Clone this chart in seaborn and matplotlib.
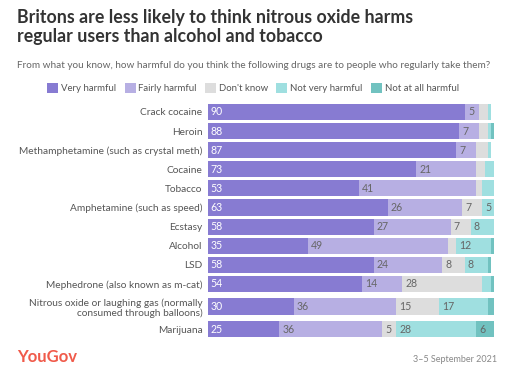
import matplotlib
matplotlib.use("Agg")
import matplotlib.pyplot as plt
import numpy as np
import pandas as pd
import seaborn as sns
from matplotlib.patches import Patch

drugs = [
    "Crack cocaine",
    "Heroin",
    "Methamphetamine (such as crystal meth)",
    "Cocaine",
    "Tobacco",
    "Amphetamine (such as speed)",
    "Ecstasy",
    "Alcohol",
    "LSD",
    "Mephedrone (also known as m-cat)",
    "Nitrous oxide or laughing gas (normally\nconsumed through balloons)",
    "Marijuana",
]
responses = ["Very harmful", "Fairly harmful", "Don't know", "Not very harmful", "Not at all harmful"]
very_harmful = [90, 88, 87, 73, 53, 63, 58, 35, 58, 54, 30, 25]
fairly_harmful = [5, 7, 7, 21, 41, 26, 27, 49, 24, 14, 36, 36]
dont_know = [3, 3, 4, 3, 2, 7, 7, 3, 8, 28, 15, 5]
not_very_harmful = [1, 1, 1, 3, 4, 5, 8, 12, 8, 3, 17, 28]
not_at_all_harmful = [0, 1, 0, 1, 0, 0, 1, 1, 1, 1, 2, 6]

colors = ["#877bd2", "#b7afe3", "#dddddd", "#9fdfe0", "#71c2c0"]
text_dark = "#555555"

sns.set_style("white")
plt.rcParams["font.family"] = ["Lato", "DejaVu Sans"]

values = np.array([very_harmful, fairly_harmful, dont_know, not_very_harmful, not_at_all_harmful], dtype=float)
cum = values.cumsum(axis=0)

# row positions: a bit of extra room around two-line labels
pos = []
y = 0.0
for i, d in enumerate(drugs):
    if i > 0:
        y += 1.0
        if "\n" in d or "\n" in drugs[i - 1]:
            y += 0.18
    pos.append(y)

fig = plt.figure(figsize=(5.16, 3.78), dpi=100)
ax = fig.add_axes([208 / 516, 1 - 339 / 378, 285.6 / 516, (339 - 102) / 378])

# stacked bars: draw cumulative totals from the outside in
for k in range(len(responses) - 1, -1, -1):
    df = pd.DataFrame({"pos": pos, "right": cum[k]})
    sns.barplot(
        data=df, x="right", y="pos", orient="y", native_scale=True,
        color=colors[k], saturation=1, width=0.84, linewidth=0, ax=ax,
    )

for k in range(len(responses)):
    for i in range(len(drugs)):
        v = values[k, i]
        if v >= 5:
            left = cum[k, i] - v
            ax.text(left + 1.0, pos[i], f"{int(v)}", va="center", ha="left",
                    fontsize=7.6, color="white" if k == 0 else "#666666")

ax.set_xlim(0, 100)
ax.set_ylim(11.88, -0.52)
ax.set_yticks(pos)
ax.set_yticklabels(drugs, fontsize=7.3, color=text_dark, linespacing=1.1)
ax.tick_params(axis="y", length=0, pad=4)
ax.set_xticks([])
ax.set_xlabel("")
ax.set_ylabel("")
for s in ax.spines.values():
    s.set_visible(False)

fig.text(17 / 516, 1 - 9 / 378,
         "Britons are less likely to think nitrous oxide harms\nregular users than alcohol and tobacco",
         fontsize=12.8, fontweight="bold", color="#333333", va="top", ha="left", linespacing=1.12)
fig.text(17 / 516, 1 - 65 / 378,
         "From what you know, how harmful do you think the following drugs are to people who regularly take them?",
         fontsize=7.2, color="#666666", va="center", ha="left")

handles = [Patch(facecolor=c, edgecolor="none") for c in colors]
fig.legend(handles, responses, loc="center", bbox_to_anchor=(253 / 516, 1 - 88 / 378), ncol=5,
           frameon=False, fontsize=6.9, handlelength=1.15, handleheight=1.15, handletextpad=0.3,
           columnspacing=0.85, labelcolor=text_dark)

fig.text(17 / 516, 1 - 357 / 378, "YouGov", fontsize=12, fontweight="bold", color="#f05a4a",
         va="center", ha="left")
fig.text(497 / 516, 1 - 359 / 378, "3–5 September 2021", fontsize=6.5, color="#888888",
         va="center", ha="right")

fig.savefig("out.png", dpi=100)
